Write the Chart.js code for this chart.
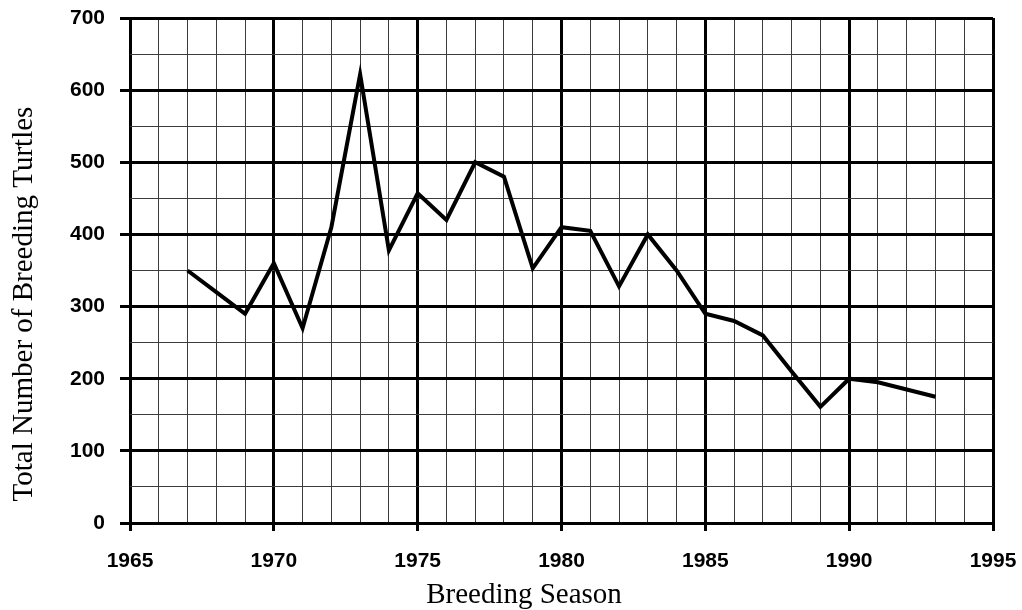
<!DOCTYPE html>
<html>
<head>
<meta charset="utf-8">
<script src="https://cdn.jsdelivr.net/npm/chart.js@4"></script>
<style>
  html, body { margin: 0; padding: 0; background: #ffffff; }
  #turtles { display: block; }
</style>
</head>
<body>
<canvas id="turtles" width="1022" height="610"></canvas>
<script>
// Breeding turtle counts per season
const seasons = [1967, 1968, 1969, 1970, 1971, 1972, 1973, 1974, 1975, 1976,
                 1977, 1978, 1979, 1980, 1981, 1982, 1983, 1984, 1985, 1986,
                 1987, 1988, 1989, 1990, 1991, 1992, 1993];
const turtles = [350, 320, 290, 360, 270, 410, 622, 378, 457, 420,
                 500, 480, 353, 410, 405, 328, 400, 350, 290, 280,
                 260, 210, 161, 200, 195, 185, 175];

const xTickLabels = [1965, 1970, 1975, 1980, 1985, 1990, 1995];
const yTickLabels = [0, 100, 200, 300, 400, 500, 600, 700];

const X_TITLE = 'Breeding Season';
const Y_TITLE = 'Total Number of Breeding Turtles';

const INK = '#000000';
const MINOR = '#3c3c3c';
const TICK_FONT = '"Liberation Sans", Arial, sans-serif';

const isMajorX = v => xTickLabels.includes(v);
const isMajorY = v => yTickLabels.includes(v);

// axis titles sit off-centre, so they are painted by hand
const axisTitles = {
  id: 'axisTitles',
  afterDraw(chart) {
    const c = chart.ctx;
    c.save();
    c.fillStyle = INK;
    c.font = '29px "Liberation Serif", "Times New Roman", serif';
    c.textAlign = 'center';
    c.textBaseline = 'alphabetic';
    c.fillText(X_TITLE, 524, 603);
    c.translate(32, 304);
    c.rotate(-Math.PI / 2);
    c.fillText(Y_TITLE, 0, 0);
    c.restore();
  }
};

new Chart(document.getElementById('turtles'), {
  type: 'line',
  data: {
    datasets: [{
      data: seasons.map((s, i) => ({ x: s, y: turtles[i] })),
      borderColor: INK,
      borderWidth: 4,
      borderJoinStyle: 'miter',
      pointRadius: 0,
      tension: 0,
      fill: false,
    }]
  },
  options: {
    responsive: false,
    animation: false,
    layout: { padding: { top: 18, right: 29, left: 0, bottom: 0 } },
    plugins: {
      legend:  { display: false },
      tooltip: { enabled: false },
    },
    scales: {
      x: {
        type: 'linear',
        min: 1965,
        max: 1995,
        afterFit(scale) {
          scale.height = 87;
          scale.paddingRight = 0;
          scale.paddingLeft = 0;
        },
        border: { display: false },
        grid: {
          color:     ctx => isMajorX(ctx.tick.value) ? INK : MINOR,
          lineWidth: ctx => isMajorX(ctx.tick.value) ? 3 : 1,
          tickColor: ctx => isMajorX(ctx.tick.value) ? INK : 'rgba(0,0,0,0)',
          tickWidth: 3,
          tickLength: 8,
        },
        ticks: {
          stepSize: 1,
          autoSkip: false,
          maxRotation: 0,
          padding: 18,
          color: INK,
          font: { family: TICK_FONT, size: 21, weight: 'bold' },
          callback: v => isMajorX(v) ? String(v) : '',
        },
      },
      y: {
        min: 0,
        max: 700,
        afterFit(scale) {
          scale.width = 130;
          scale.paddingTop = 0;
          scale.paddingBottom = 0;
        },
        border: { display: false },
        grid: {
          color:     ctx => isMajorY(ctx.tick.value) ? INK : MINOR,
          lineWidth: ctx => isMajorY(ctx.tick.value) ? 3 : 1,
          tickColor: ctx => isMajorY(ctx.tick.value) ? INK : 'rgba(0,0,0,0)',
          tickWidth: 3,
          tickLength: 10,
        },
        ticks: {
          stepSize: 50,
          autoSkip: false,
          padding: 15,
          color: INK,
          font: { family: TICK_FONT, size: 21, weight: 'bold' },
          callback: v => isMajorY(v) ? String(v) : '',
        },
      },
    },
  },
  plugins: [axisTitles],
});
</script>
</body>
</html>
